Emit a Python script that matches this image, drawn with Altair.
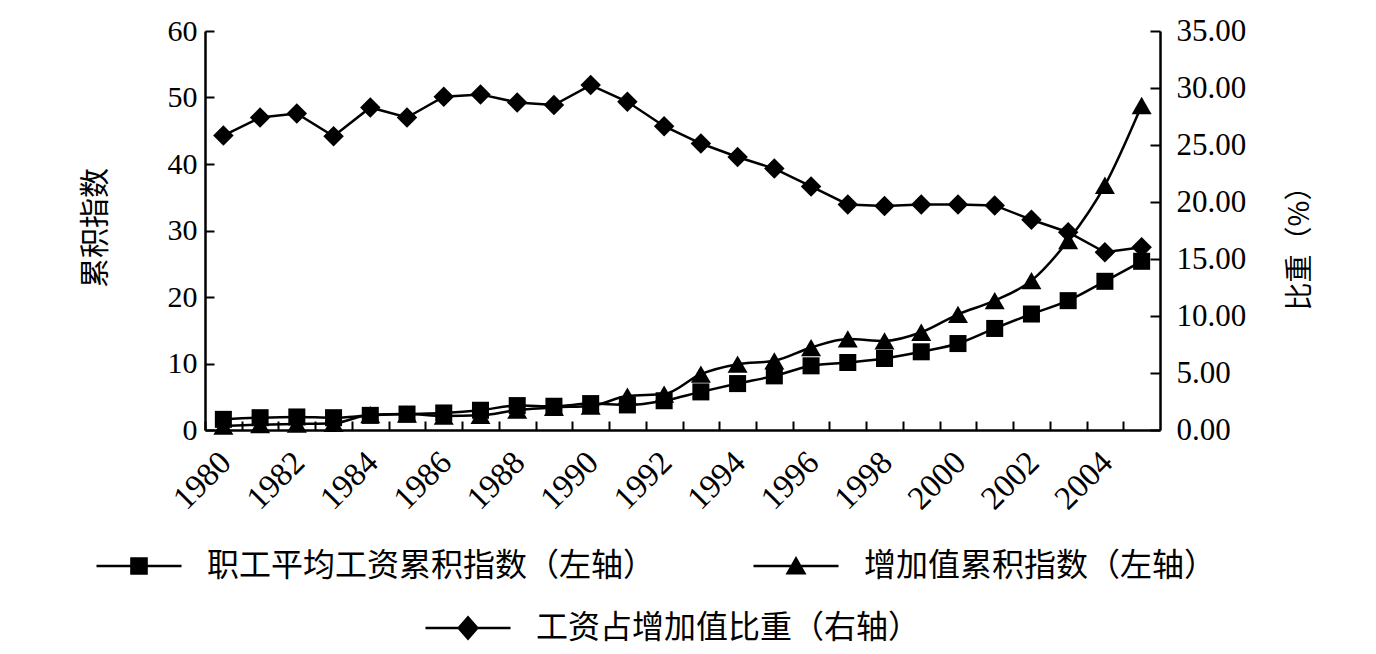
import altair as alt
import pandas as pd

years = list(range(1980, 2006))
wage_index = [1.6, 1.85, 1.96, 1.85, 2.2, 2.4, 2.56, 2.97, 3.67, 3.57, 3.97, 3.77, 4.4,
              5.73, 6.98, 8.14, 9.65, 10.15, 10.75, 11.76, 13.0, 15.27, 17.44, 19.45, 22.36, 25.37]
added_index = [0.6, 0.8, 0.9, 1.0, 2.3, 2.4, 2.1, 2.2, 3.0, 3.4, 3.6, 5.1, 5.4,
               8.4, 9.9, 10.4, 12.4, 13.7, 13.4, 14.7, 17.4, 19.45, 22.46, 28.5, 36.8, 48.8]
wage_share = [25.83, 27.41, 27.77, 25.77, 28.29, 27.41, 29.23, 29.44, 28.73, 28.5, 30.26, 28.79, 26.65,
              25.13, 23.95, 22.93, 21.37, 19.79, 19.64, 19.79, 19.79, 19.7, 18.44, 17.35, 15.59, 16.03]

S1 = "职工平均工资累积指数（左轴）"
S2 = "增加值累积指数（左轴）"
S3 = "工资占增加值比重（右轴）"
left_ticks = [0, 10, 20, 30, 40, 50, 60]
right_ticks = [0, 5, 10, 15, 20, 25, 30, 35]

df_left = pd.DataFrame({
    "year": years + years,
    "value": wage_index + added_index,
    "series": [S1] * len(years) + [S2] * len(years),
})
df_right = pd.DataFrame({"year": years, "share": wage_share, "series": [S3] * len(years)})

W, H = 955, 399
step = W / len(years)
SERIF = "Liberation Serif"
CJK = "Noto Sans CJK SC"

x_enc = alt.X(
    "year:O",
    scale=alt.Scale(type="point", padding=0.5),
    axis=alt.Axis(
        title=None,
        labelExpr="datum.value % 2 == 0 ? datum.value : ''",
        labelAngle=315,
        labelAlign="right",
        labelBaseline="middle",
        labelFont=SERIF,
        labelFontSize=33,
        labelColor="black",
        labelPadding=36,
        labelOffset=step / 2 + 2,
        tickOffset=-step / 2,
        tickSize=alt.ExprRef("-9"),
        tickWidth=2,
        tickColor="black",
        domainColor="black",
        domainWidth=2.5,
        grid=False,
    ),
)

y_left = alt.Y(
    "value:Q",
    scale=alt.Scale(domain=[0, 60], nice=False),
    axis=alt.Axis(
        orient="left", values=left_ticks, title="累积指数", titleFont=CJK, titleFontSize=30,
        titleFontWeight="normal", titleColor="black", titleAngle=270, titleX=-110, titleY=H / 2 - 3,
        titleAlign="center", titleBaseline="middle",
        labelFont=SERIF, labelFontSize=30, labelColor="black", labelPadding=17,
        tickSize=alt.ExprRef("-9"), tickWidth=2, tickColor="black",
        domainColor="black", domainWidth=2.5, grid=False,
    ),
)

y_right = alt.Y(
    "share:Q",
    scale=alt.Scale(domain=[0, 35], nice=False),
    axis=alt.Axis(
        orient="right", values=right_ticks, format=".2f", title="比重（%）", titleFont=CJK,
        titleFontSize=28, titleFontWeight="normal", titleColor="black", titleAngle=270,
        titleX=140, titleY=210, titleAlign="center", titleBaseline="middle",
        labelFont=SERIF, labelFontSize=31, labelColor="black", labelPadding=26,
        tickSize=alt.ExprRef("-10"), tickWidth=2, tickColor="black",
        domainColor="black", domainWidth=2.5, grid=False,
    ),
)

# legend symbols: thin bar (the line) + marker, all filled (unit = sqrt(size)/2 = 10 px)
P_SQ = "M-4.25,-0.13H4.25V0.13H-4.25Z M-0.88,-0.88H0.88V0.88H-0.88Z"
P_TRI = "M-4.25,-0.13H4.25V0.13H-4.25Z M0,-1L1.05,0.85L-1.05,0.85Z"
P_DIA = "M-4.25,-0.13H4.25V0.13H-4.25Z M0,-1.25L1.1,0L0,1.25L-1.1,0Z"


def legend(x, y):
    return alt.Legend(
        title=None, orient="none", legendX=x, legendY=y, direction="horizontal",
        padding=0, columnPadding=97, labelFont=CJK, labelFontSize=32, labelColor="black",
        labelLimit=1000, symbolSize=400, symbolOffset=27, labelOffset=52,
        symbolFillColor="black", symbolStrokeColor="black", symbolStrokeWidth=0,
        symbolOpacity=1,
    )


line_left = alt.Chart(df_left).mark_line(
    interpolate="monotone", color="black", strokeWidth=2.5
).encode(x=x_enc, y=y_left, detail="series:N")

pts_sq = alt.Chart(df_left).transform_filter(alt.datum.series == S1).mark_point(
    shape="square", filled=True, color="black", size=290, opacity=1
).encode(x=x_enc, y=y_left)

pts_tri = alt.Chart(df_left).transform_filter(alt.datum.series == S2).mark_point(
    shape="triangle-up", filled=True, color="black", size=400, opacity=1
).encode(x=x_enc, y=y_left)

leg_left = alt.Chart(df_left).mark_point(
    fill="black", stroke="black", strokeWidth=0, opacity=0
).encode(
    x=x_enc, y=y_left,
    shape=alt.Shape("series:N", scale=alt.Scale(domain=[S1, S2], range=[P_SQ, P_TRI]),
                    legend=legend(-109, 519)),
)

left = alt.layer(line_left, pts_sq, pts_tri, leg_left)

line_right = alt.Chart(df_right).mark_line(color="black", strokeWidth=2.5).encode(x=x_enc, y=y_right)
pts_dia = alt.Chart(df_right).mark_point(
    shape="diamond", filled=True, color="black", size=420, opacity=1
).encode(x=x_enc, y=y_right)
leg_right = alt.Chart(df_right).mark_point(
    fill="black", stroke="black", strokeWidth=0, opacity=0
).encode(
    x=x_enc, y=y_right,
    shape=alt.Shape("series:N", scale=alt.Scale(domain=[S3], range=[P_DIA]),
                    legend=legend(220, 581)),
)
right = alt.layer(line_right, pts_dia, leg_right)

chart = alt.layer(left, right).resolve_scale(y="independent", shape="independent").properties(
    width=W, height=H,
    autosize=alt.AutoSizeParams(type="none"),
    padding={"left": 205, "top": 31, "right": 216, "bottom": 224},
    background="white",
).configure_view(strokeWidth=0)

chart.save("out.html", embed_options={"renderer": "svg", "actions": False})
